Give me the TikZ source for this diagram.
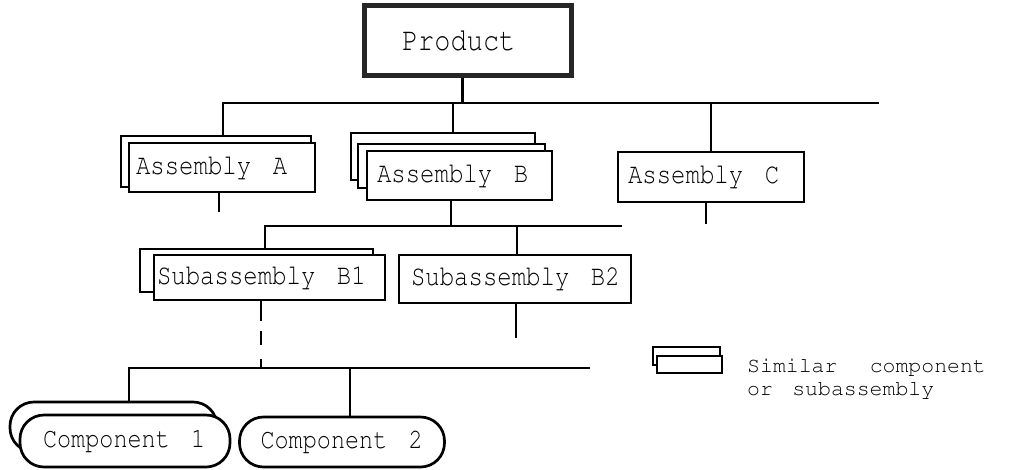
\documentclass[tikz,border=0pt]{standalone}
\usepackage[T1]{fontenc}
\usepackage{courier}
\newcommand{\cour}{\ttfamily}
\newcommand{\lbl}{\fontsize{24}{28}\selectfont\cour}
\newcommand{\wg}{\kern0.9em}
\newcommand{\tall}[1]{\scalebox{1}[1.2]{#1}}
\begin{document}
\begin{tikzpicture}[x=1pt,y=-1pt,
  wire/.style={line width=2.5pt},
  unit/.style={draw, line width=2.7pt, fill=white, inner ysep=0pt, align=left, font=\lbl},
  part/.style={unit, rounded corners=24pt, font=\fontsize{23.5}{28}\selectfont\cour},
  flag/.style={draw, line width=2pt, fill=white, inner sep=0pt},
  keytext/.style={anchor=base west, inner sep=0pt, font=\fontsize{21.5}{24}\selectfont\cour}]
\useasboundingbox (0,0) rectangle (1019,469);

% top level
\node[unit, line width=5pt, draw=black!85, inner xsep=38pt, text width=131pt, minimum height=70pt,
      font=\fontsize{27}{32}\selectfont\cour] (P) at (467.5,40) {\tall{Product}};

% assemblies
\node[unit, minimum width=190pt, minimum height=51pt] (Aback) at (216,161.5) {};
\node[unit, inner xsep=7pt, text width=172pt, minimum height=49pt] (A) at (222,167.5) {\tall{Assembly\wg A}};

\node[unit, minimum width=184pt, minimum height=47pt] (Bback) at (443,156.5) {};
\node[unit, minimum width=187pt, minimum height=44pt] (Bmid) at (451.5,166) {};
\node[unit, inner xsep=10pt, text width=165pt, minimum height=49pt] (B) at (459.5,175.5) {\tall{Assembly\wg B}};

\node[unit, inner xsep=10pt, text width=166pt, minimum height=50pt] (C) at (711,177) {\tall{Assembly\wg C}};

% subassemblies
\node[unit, minimum width=233pt, minimum height=43pt] (B1back) at (256.5,270.5) {};
\node[unit, inner xsep=3pt, text width=225pt, minimum height=45pt] (B1) at (269.5,277.5) {\tall{Subassembly\wg B1}};
\node[unit, inner xsep=12pt, text width=208pt, minimum height=48pt] (B2) at (515,279) {\tall{Subassembly\wg B2}};

% components
\node[part, minimum width=207pt, minimum height=50pt] (C1back) at (113.5,427) {};
\node[part, inner xsep=23pt, text width=164pt, minimum height=52pt] (C1) at (125,441) {\tall{Component\wg 1}};
\node[part, inner xsep=21pt, text width=163pt, minimum height=50pt] (C2) at (342,442) {\tall{Component\wg 2}};

% key
\node[flag, minimum width=67pt, minimum height=18pt] (Kback) at (686.5,356) {};
\node[flag, minimum width=65pt, minimum height=17pt] (K) at (689.5,364.5) {};
\node[keytext] (Kline1) at (747,372) {Similar\kern1.5em component};
\node[keytext] (Kline2) at (747,395) {or\wg subassembly};

% bus lines and free ends
\coordinate (b1r) at (879,103);
\coordinate (b2r) at (622,226);
\coordinate (b3r) at (590,368);
\coordinate (Aend) at (219,212);
\coordinate (Cend) at (706,224);
\coordinate (B2end) at (516,338);

% level 1
\draw[wire] ([xshift=7pt]Aback.north) |- (b1r);
\draw[wire] ([xshift=-5pt]P.south) -- ([xshift=-5pt]P.south |- b1r);
\draw[wire] ([xshift=10pt]Bback.north) -- ([xshift=10pt]Bback.north |- b1r);
\draw[wire] (C.north) -- (C.north |- b1r);
\draw[wire] ([xshift=-3pt]A.south) -- (Aend);
\draw[wire] ([xshift=-5pt]C.south) -- (Cend);

% level 2
\draw[wire] ([xshift=8.5pt]B1back.north) |- (b2r);
\draw[wire] ([xshift=-8.5pt]B.south) -- ([xshift=-8.5pt]B.south |- b2r);
\draw[wire] ([xshift=2pt]B2.north) -- ([xshift=2pt]B2.north |- b2r);
\draw[wire] ([xshift=1pt]B2.south) -- (B2end);

% level 3
\draw[wire] ([xshift=15.5pt]C1back.north) |- (b3r);
\draw[wire] ([xshift=8pt]C2.north) -- ([xshift=8pt]C2.north |- b3r);
\draw[wire, dash pattern=on 20pt off 10pt on 14pt off 14pt on 12pt]
  ([xshift=-8.5pt]B1.south) -- ([xshift=-8.5pt]B1.south |- b3r);
\end{tikzpicture}
\end{document}
